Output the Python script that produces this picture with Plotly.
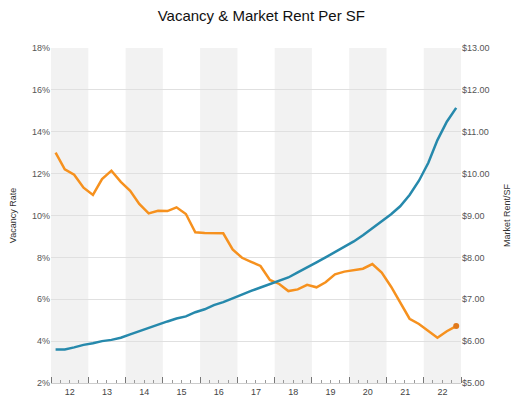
import plotly.graph_objects as go

quarters = [f"{y}-{m:02d}-15" for y in range(2012, 2023) for m in (2, 5, 8, 11)]

vacancy = [13.0, 12.2, 11.95, 11.33, 10.98, 11.74, 12.14, 11.61, 11.18, 10.55, 10.10, 10.23,
           10.21, 10.39, 10.07, 9.20, 9.17, 9.15, 9.15, 8.38, 7.98, 7.79, 7.59, 6.92,
           6.73, 6.39, 6.47, 6.69, 6.57, 6.81, 7.19, 7.32, 7.40, 7.46, 7.68, 7.27,
           6.60, 5.87, 5.07, 4.82, 4.48, 4.16, 4.47, 4.72]

rent = [5.80, 5.80, 5.85, 5.91, 5.95, 6.00, 6.03, 6.08, 6.16, 6.24, 6.31, 6.39,
        6.47, 6.54, 6.59, 6.69, 6.76, 6.86, 6.93, 7.02, 7.12, 7.20, 7.28, 7.36,
        7.43, 7.52, 7.64, 7.75, 7.88, 8.00, 8.12, 8.25, 8.38, 8.53, 8.70, 8.86,
        9.03, 9.22, 9.49, 9.83, 10.26, 10.80, 11.24, 11.57]

shaded_years = [2012, 2014, 2016, 2018, 2020, 2022]

ORANGE = "#f6911e"
BLUE = "#2689ac"

fig = go.Figure()
fig.add_trace(go.Scatter(x=quarters, y=rent, mode="lines", yaxis="y2",
                         line=dict(color=BLUE, width=2.5), name="Market Rent/SF"))
fig.add_trace(go.Scatter(x=quarters, y=vacancy, mode="lines", yaxis="y",
                         line=dict(color=ORANGE, width=2.5), name="Vacancy Rate"))
fig.add_trace(go.Scatter(x=quarters[-1:], y=vacancy[-1:], mode="markers", yaxis="y",
                         marker=dict(color="#e0791c", size=6), showlegend=False))

shapes = [dict(type="rect", xref="x", yref="paper", x0=f"{y}-01-01", x1=f"{y+1}-01-01",
               y0=0, y1=1, fillcolor="#f2f2f2", line=dict(width=0), layer="below")
          for y in shaded_years]

fig.update_layout(
    width=517, height=389,
    margin=dict(l=43, r=64, t=40, b=14),
    paper_bgcolor="white", plot_bgcolor="white",
    showlegend=False,
    font=dict(family="Liberation Sans, Arial, sans-serif", color="#555", size=9),
    title=dict(text="Vacancy & Market Rent Per SF", x=0.49, xanchor="center",
               yref="container", y=0.979, yanchor="middle",
               font=dict(size=15, color="#111")),
    shapes=shapes,
    xaxis=dict(type="date", range=["2012-01-01", "2023-01-01"],
               tick0="2012-01-01", dtick="M12", tickformat="%y",
               ticklabelmode="period", ticks="inside", ticklen=6, tickcolor="#777",
               tickwidth=1, showgrid=False, showline=True, linecolor="#ccc",
               automargin=False, tickfont=dict(size=9, color="#444"),
               minor=dict(dtick="M3", ticks="inside", ticklen=3, tickcolor="#999",
                          showgrid=False)),
    yaxis=dict(range=[2, 18], dtick=2, ticksuffix="%", showgrid=True,
               gridcolor="#e0e0e0", gridwidth=1, zeroline=False, automargin=False,
               tickfont=dict(size=9, color="#555"),
               title=dict(text="Vacancy Rate", font=dict(size=9, color="#333"), standoff=14)),
    yaxis2=dict(range=[5, 13], dtick=1, tickprefix="$", tickformat=".2f",
                overlaying="y", side="right", showgrid=False, zeroline=False,
                automargin=False, tickfont=dict(size=9, color="#555"),
                title=dict(text="Market Rent/SF", font=dict(size=9, color="#333"), standoff=15)),
)

fig.write_html("out.html")
